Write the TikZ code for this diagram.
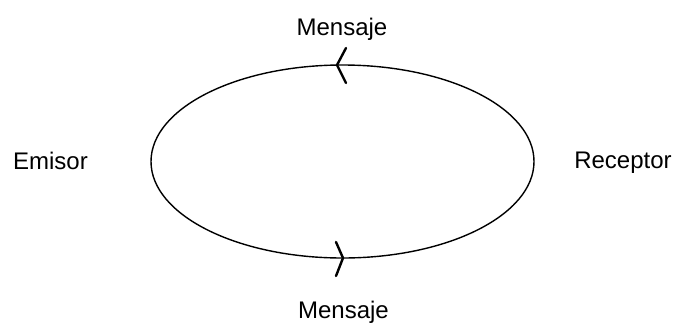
\documentclass[tikz,border=0pt]{standalone}
\usepackage{fontspec}
\setmainfont{Liberation Sans}
\begin{document}
\begin{tikzpicture}[x=1bp,y=-1bp,
  lbl/.style={anchor=base,inner sep=0pt,font=\fontsize{24bp}{28bp}\selectfont},
  ring/.style={line width=1.4bp},
  tick/.style={line width=2.4bp,line cap=round,line join=round}]
\useasboundingbox (0,0) rectangle (677,322);
\node[lbl] (m1) at (342,35) {Mensaje};
\node[lbl] (m2) at (343.5,318) {Mensaje};
\node[lbl] (em) at (50.5,169) {Emisor};
\node[lbl] (re) at (623,168) {Receptor};
\draw[ring] (342.5,161.5) ellipse [x radius=191.5, y radius=96.5];
\coordinate (t) at (337,65);
\coordinate (b) at (343,258);
\draw[tick] ([shift={(9,-17)}]t) -- (t) -- ([shift={(9,18)}]t);
\draw[tick] ([shift={(-7,-16)}]b) -- (b) -- ([shift={(-7,18)}]b);
\end{tikzpicture}
\end{document}
